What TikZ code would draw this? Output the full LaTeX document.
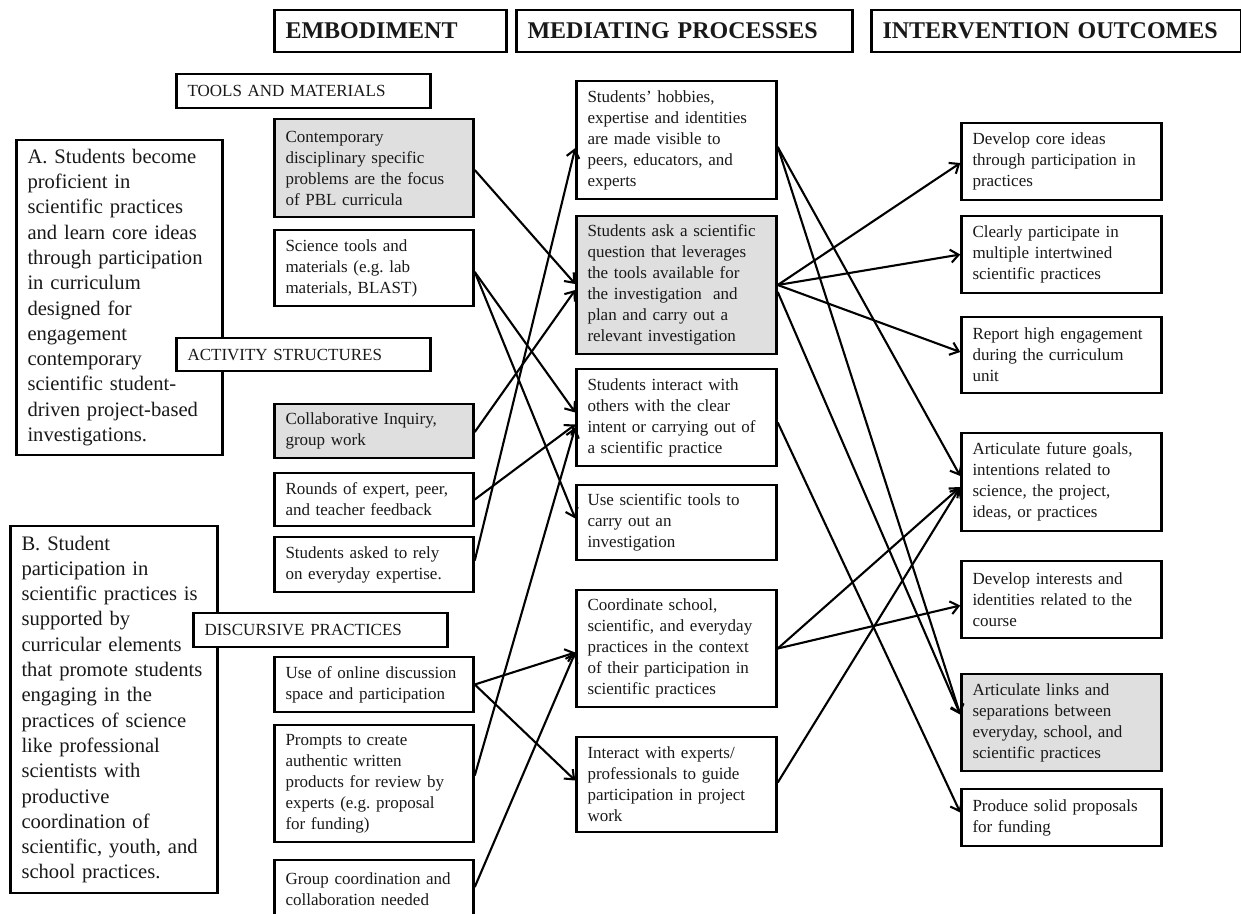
\documentclass[tikz,border=0pt]{standalone}
\usepackage{fontspec}
\setmainfont{Liberation Serif}
\usetikzlibrary{arrows.meta}
\frenchspacing
\tikzset{
  boxstyle/.style={draw, line width=2.5pt, align=left, inner xsep=11pt, inner ysep=0pt,
    font=\fontsize{17}{21}\selectfont, text=black!90},
  bigtext/.style={font=\fontsize{20.6}{25.3}\selectfont},
  headtext/.style={font=\fontsize{24}{28}\selectfont\bfseries},
  conn/.style={line width=2.1pt, -{Straight Barb[length=8pt,width=13pt,line width=2.1pt]}}
}
% #1 fill, #2 extra style, #3 name, #4 x1, #5 y1, #6 x2, #7 y2, #8 text
\newcommand{\bx}[8][white]{%
  \pgfmathsetmacro{\bxW}{#6-#4}%
  \pgfmathsetmacro{\bxH}{#7-#5}%
  \pgfmathsetmacro{\bxT}{#6-#4-21}%
  \node[boxstyle, #2, fill=#1, minimum width=\bxW pt, minimum height=\bxH pt, text width=\bxT pt]
    (#3) at ({(#4+#6)/2},{(#5+#7)/2}) {#8};}
\begin{document}
\begin{tikzpicture}[x=1pt, y=-1pt]
\useasboundingbox (0,0) rectangle (1241,913);
% headers
\bx{headtext}{hemb}{275}{10}{506}{52}{EMBODIMENT}
\bx{headtext}{hmed}{517}{10}{852}{52}{MEDIATING PROCESSES}
\bx{headtext}{hint}{872}{10}{1241}{52}{INTERVENTION OUTCOMES}
% big left boxes
\bx{bigtext}{boxa}{17}{140}{222}{455}{A. Students become\\proficient in\\scientific practices\\and learn core ideas\\through participation\\in curriculum\\designed for\\engagement\\contemporary\\scientific student-\\driven project-based\\investigations.}
\bx{bigtext}{boxb}{11}{526}{217}{893}{B. Student\\participation in\\scientific practices is\\supported by\\curricular elements\\that promote students\\engaging in the\\practices of science\\like professional\\scientists with\\productive\\coordination of\\scientific, youth, and\\school practices.}
% category labels
\bx{}{ltools}{177}{74}{430}{108}{TOOLS AND MATERIALS}
\bx{}{lact}{177}{338}{430}{371}{ACTIVITY STRUCTURES}
\bx{}{ldisc}{194}{613}{447}{647}{DISCURSIVE PRACTICES}
% embodiment column
\bx[gray!25]{}{contemp}{275}{119}{473}{217}{Contemporary\\disciplinary specific\\problems are the focus\\of PBL curricula}
\bx{}{science}{275}{230}{473}{306}{Science tools and\\materials (e.g. lab\\materials, BLAST)}
\bx[gray!25]{}{collab}{275}{404}{473}{458}{Collaborative Inquiry,\\group work}
\bx{}{rounds}{275}{473}{473}{526}{Rounds of expert, peer,\\and teacher feedback}
\bx{}{asked}{275}{537}{473}{592}{Students asked to rely\\on everyday expertise.}
\bx{}{online}{275}{657}{473}{712}{Use of online discussion\\space and participation}
\bx{}{prompts}{275}{725}{473}{842}{Prompts to create\\authentic written\\products for review by\\experts (e.g. proposal\\for funding)}
\bx{}{group}{275}{860}{473}{918}{Group coordination and\\collaboration needed}
% mediating column
\bx{}{hobbies}{577}{81}{776}{199}{Students' hobbies,\\expertise and identities\\are made visible to\\peers, educators, and\\experts}
\bx[gray!25]{}{ask}{577}{216}{776}{354}{Students ask a scientific\\question that leverages\\the tools available for\\the investigation\ \ and\\plan and carry out a\\relevant investigation}
\bx{}{interact}{577}{369}{776}{466}{Students interact with\\others with the clear\\intent or carrying out of\\a scientific practice}
\bx{}{usetools}{577}{485}{776}{560}{Use scientific tools to\\carry out an\\investigation}
\bx{}{coord}{577}{590}{776}{707}{Coordinate school,\\scientific, and everyday\\practices in the context\\of their participation in\\scientific practices}
\bx{}{experts}{577}{737}{776}{832}{Interact with experts/\\professionals to guide\\participation in project\\work}
% outcomes column
\bx{}{core}{962}{123}{1161}{200}{Develop core ideas\\through participation in\\practices}
\bx{}{clearly}{962}{216}{1161}{293}{Clearly participate in\\multiple intertwined\\scientific practices}
\bx{}{report}{962}{317}{1161}{393}{Report high engagement\\during the curriculum\\unit}
\bx{}{goals}{962}{433}{1161}{531}{Articulate future goals,\\intentions related to\\science, the project,\\ideas, or practices}
\bx{}{interests}{962}{561}{1161}{638}{Develop interests and\\identities related to the\\course}
\bx[gray!25]{}{links}{962}{674}{1161}{771}{Articulate links and\\separations between\\everyday, school, and\\scientific practices}
\bx{}{proposals}{962}{789}{1161}{846}{Produce solid proposals\\for funding}
% connectors: embodiment -> mediating
\draw[conn] ([yshift=-2pt]contemp.east) -- ([yshift=1pt]ask.west);
\draw[conn] ([yshift=-4pt]science.east) -- ([yshift=5pt]interact.west);
\draw[conn] ([yshift=-4pt]science.east) -- ([yshift=4pt]usetools.west);
\draw[conn] ([yshift=-1pt]collab.east) -- ([yshift=-5pt]ask.west);
\draw[conn] (rounds.east) -- ([yshift=-7pt]interact.west);
\draw[conn] ([yshift=4pt]asked.east) -- ([yshift=-8pt]hobbies.west);
\draw[conn] (online.east) -- ([yshift=-4pt]coord.west);
\draw[conn] (online.east) -- ([yshift=4pt]experts.west);
\draw[conn] ([yshift=8pt]prompts.east) -- ([yshift=-10pt]interact.west);
\draw[conn] ([yshift=2pt]group.east) -- ([yshift=-4pt]coord.west);
% connectors: mediating -> outcomes
\draw[conn] ([yshift=-7pt]hobbies.east) -- ([yshift=6pt]goals.west);
\draw[conn] ([yshift=-7pt]hobbies.east) -- ([yshift=8pt]links.west);
\draw[conn] (ask.east) -- ([yshift=-1.5pt]core.west);
\draw[conn] (ask.east) -- (clearly.west);
\draw[conn] (ask.east) -- ([yshift=3pt]report.west);
\draw[conn] ([yshift=-7pt]ask.east) -- ([yshift=8pt]links.west);
\draw[conn] ([yshift=-5pt]interact.east) -- ([yshift=5pt]proposals.west);
\draw[conn] (coord.east) -- ([yshift=-5pt]goals.west);
\draw[conn] (coord.east) -- ([yshift=-6pt]interests.west);
\draw[conn] ([yshift=2pt]experts.east) -- ([yshift=-5pt]goals.west);
\end{tikzpicture}
\end{document}
